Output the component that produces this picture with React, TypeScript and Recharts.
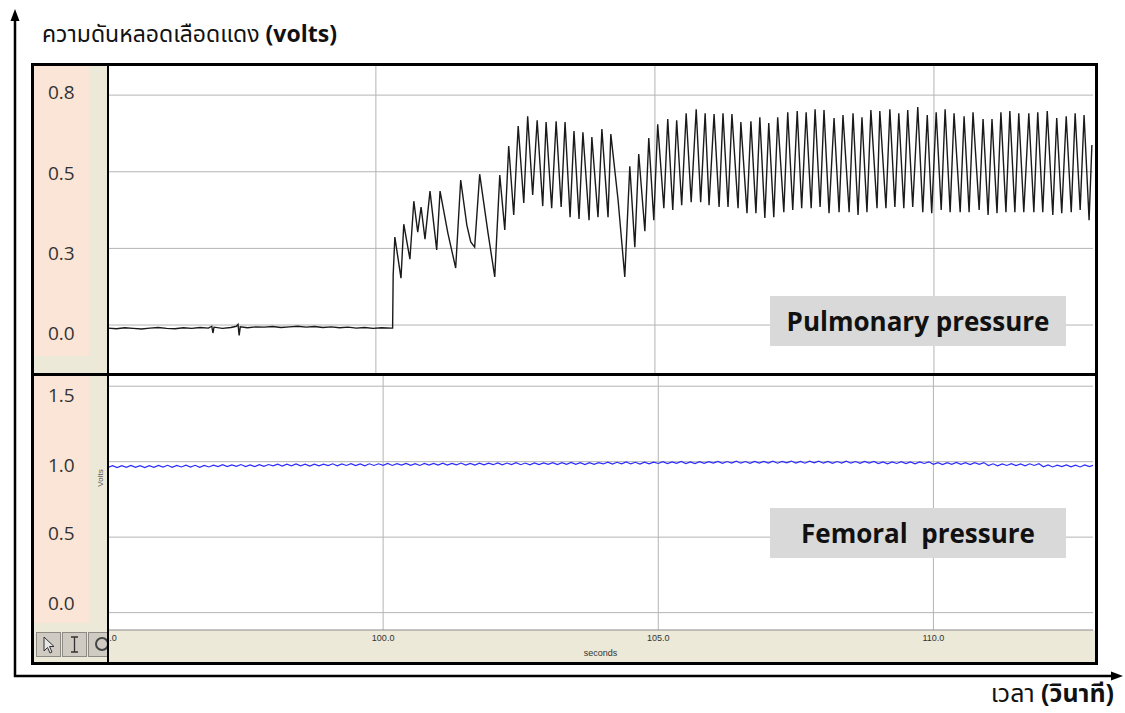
import { Line, LineChart, ReferenceLine, XAxis, YAxis } from "recharts";

// pulmonary channel: y ticks and time gridlines
const PULM_TICKS = [0, 0.25, 0.5, 0.75];
const PULM_TIME_GRID = [100, 105, 110];

// femoral channel
const FEM_TICKS = [0, 0.5, 1.0, 1.5];
const FEM_TIME_TICKS = [95, 100, 105, 110];

// flat trace before the catheter reaches the artery [seconds, volts]
const PULM_BASELINE: [number, number][] = [
  [95.2, -0.01], [95.35, -0.012], [95.5, -0.009], [95.65, -0.011], [95.8, -0.013],
  [95.95, -0.01], [96.1, -0.008], [96.25, -0.011], [96.4, -0.012], [96.55, -0.009],
  [96.7, -0.011], [96.85, -0.008], [97.0, -0.01], [97.06, -0.004], [97.08, -0.026],
  [97.1, -0.007], [97.25, -0.011], [97.4, -0.008], [97.5, -0.004], [97.53, 0.002],
  [97.55, -0.034], [97.57, -0.006], [97.7, -0.009], [97.85, -0.006], [98.0, -0.007],
  [98.15, -0.005], [98.3, -0.008], [98.45, -0.006], [98.6, -0.004], [98.75, -0.007],
  [98.9, -0.005], [99.05, -0.008], [99.2, -0.006], [99.35, -0.009], [99.5, -0.007],
  [99.65, -0.01], [99.8, -0.008], [99.95, -0.011], [100.1, -0.009], [100.28, -0.01],
];

// peaks and troughs of the pulsatile part [seconds, volts]
const PULM_BEATS: [number, number][] = [
  [100.3, -0.01], [100.31, 0.163], [100.34, 0.287], [100.45, 0.153], [100.5, 0.329],
  [100.61, 0.215], [100.68, 0.404], [100.75, 0.303], [100.81, 0.385], [100.88, 0.28],
  [100.97, 0.437], [101.09, 0.245], [101.15, 0.437], [101.29, 0.3], [101.43, 0.186],
  [101.52, 0.473], [101.63, 0.326], [101.7, 0.271], [101.77, 0.254], [101.86, 0.492],
  [102.01, 0.3], [102.13, 0.157], [102.22, 0.489], [102.31, 0.31], [102.38, 0.584],
  [102.47, 0.359], [102.55, 0.649], [102.65, 0.398], [102.72, 0.681], [102.81, 0.424],
  [102.89, 0.668], [102.99, 0.388], [103.05, 0.662], [103.15, 0.381], [103.23, 0.665],
  [103.32, 0.385], [103.39, 0.662], [103.48, 0.352], [103.55, 0.633], [103.64, 0.346],
  [103.71, 0.629], [103.82, 0.342], [103.87, 0.613], [103.98, 0.352], [104.05, 0.639],
  [104.16, 0.352], [104.21, 0.623], [104.34, 0.408], [104.46, 0.157], [104.55, 0.518],
  [104.64, 0.254], [104.71, 0.558], [104.82, 0.306], [104.89, 0.61], [104.98, 0.342],
  [105.05, 0.655], [105.16, 0.381], [105.23, 0.672], [105.32, 0.375], [105.39, 0.668],
  [105.48, 0.391], [105.56, 0.691], [105.65, 0.401], [105.74, 0.704], [105.82, 0.401],
  [105.9, 0.691], [105.97, 0.391], [106.06, 0.688], [106.15, 0.385], [106.22, 0.691],
  [106.31, 0.385], [106.38, 0.688], [106.49, 0.381], [106.54, 0.662], [106.65, 0.365],
  [106.72, 0.665], [106.81, 0.365], [106.88, 0.678], [106.97, 0.349], [107.04, 0.659],
  [107.13, 0.352], [107.2, 0.678], [107.31, 0.368], [107.38, 0.694], [107.47, 0.375],
  [107.55, 0.698], [107.63, 0.381], [107.71, 0.694], [107.8, 0.381], [107.87, 0.704],
  [107.96, 0.385], [108.03, 0.701], [108.12, 0.365], [108.21, 0.675], [108.3, 0.368],
  [108.37, 0.685], [108.48, 0.368], [108.55, 0.691], [108.64, 0.359], [108.71, 0.678],
  [108.8, 0.368], [108.87, 0.701], [108.98, 0.381], [109.03, 0.698], [109.14, 0.381],
  [109.21, 0.704], [109.3, 0.385], [109.37, 0.691], [109.46, 0.381], [109.53, 0.701],
  [109.62, 0.385], [109.71, 0.711], [109.8, 0.368], [109.88, 0.685], [109.96, 0.365],
  [110.04, 0.694], [110.13, 0.375], [110.2, 0.704], [110.29, 0.368], [110.36, 0.691],
  [110.47, 0.368], [110.54, 0.681], [110.63, 0.368], [110.7, 0.694], [110.81, 0.375],
  [110.88, 0.672], [110.97, 0.359], [111.04, 0.672], [111.13, 0.365], [111.2, 0.694],
  [111.29, 0.368], [111.36, 0.698], [111.45, 0.368], [111.52, 0.691], [111.61, 0.368],
  [111.7, 0.691], [111.79, 0.368], [111.86, 0.694], [111.95, 0.368], [112.03, 0.698],
  [112.13, 0.359], [112.2, 0.675], [112.29, 0.365], [112.37, 0.681], [112.46, 0.368],
  [112.53, 0.691], [112.62, 0.375], [112.69, 0.685], [112.78, 0.342], [112.83, 0.587],
];

// femoral pressure, sampled every 1/12 s from 95.0 s (one row per second)
const FEMORAL_START = 95;
const FEMORAL_STEP = 1 / 12;
const FEMORAL: number[] = [
  0.962, 0.974, 0.961, 0.973, 0.963, 0.975, 0.962, 0.973, 0.961, 0.974, 0.963, 0.975,
  0.964, 0.976, 0.963, 0.975, 0.965, 0.977, 0.964, 0.976, 0.963, 0.975, 0.965, 0.977,
  0.968, 0.98, 0.967, 0.979, 0.969, 0.981, 0.968, 0.979, 0.967, 0.98, 0.969, 0.981,
  0.972, 0.984, 0.971, 0.983, 0.973, 0.985, 0.972, 0.983, 0.971, 0.984, 0.973, 0.984,
  0.974, 0.986, 0.973, 0.985, 0.975, 0.987, 0.974, 0.985, 0.973, 0.986, 0.975, 0.986,
  0.976, 0.988, 0.975, 0.987, 0.977, 0.989, 0.976, 0.987, 0.975, 0.988, 0.977, 0.988,
  0.978, 0.99, 0.977, 0.989, 0.979, 0.991, 0.978, 0.989, 0.977, 0.99, 0.979, 0.99,
  0.98, 0.992, 0.979, 0.991, 0.981, 0.993, 0.98, 0.991, 0.979, 0.992, 0.981, 0.992,
  0.982, 0.994, 0.981, 0.993, 0.983, 0.995, 0.982, 0.993, 0.981, 0.994, 0.983, 0.994,
  0.985, 0.997, 0.984, 0.996, 0.986, 0.998, 0.985, 0.996, 0.984, 0.997, 0.986, 0.997,
  0.988, 1.0, 0.987, 0.999, 0.989, 1.001, 0.988, 0.999, 0.987, 1.0, 0.989, 1.0,
  0.99, 1.002, 0.989, 1.001, 0.991, 1.003, 0.99, 1.001, 0.989, 1.002, 0.991, 1.002,
  0.991, 1.003, 0.99, 1.002, 0.992, 1.004, 0.991, 1.002, 0.99, 1.003, 0.992, 1.003,
  0.99, 1.002, 0.989, 1.001, 0.991, 1.003, 0.99, 1.001, 0.989, 1.002, 0.991, 1.002,
  0.987, 0.999, 0.986, 0.998, 0.988, 1.0, 0.987, 0.998, 0.986, 0.999, 0.988, 0.999,
  0.982, 0.994, 0.981, 0.993, 0.983, 0.995, 0.982, 0.993, 0.981, 0.994, 0.983, 0.994,
  0.974, 0.986, 0.973, 0.985, 0.975, 0.987, 0.974, 0.985, 0.973, 0.986, 0.975, 0.986,
  0.966, 0.978, 0.965, 0.977, 0.967, 0.979, 0.966, 0.977, 0.965, 0.978, 0.967, 0.978,
];

const pulmData = [...PULM_BASELINE, ...PULM_BEATS].map(([t, v]) => ({ t, v }));
const femData = FEMORAL.map((v, i) => ({ t: FEMORAL_START + i * FEMORAL_STEP, v }));

const PINK = "#fbe5d6";
const BEIGE = "#ece9d8";
const GRID = "#b4b4b4";
const THAI = '"Noto Sans Thai", "Noto Sans", "DejaVu Sans", sans-serif';
const SANS = '"Open Sans", "Noto Sans", sans-serif';
const SMALL = "Arial, 'Liberation Sans', sans-serif";

// the value labels in the side column sit a little off the gridlines
const PULM_LABEL_SHIFT = [8, 5, 1, -3];
const FEM_LABEL_SHIFT = [-10, -4, 3, 9];

function ValueTick(props: any) {
  const { y, payload, index, shift } = props;
  return (
    <text x={13} y={y + (shift?.[index] ?? 0)} dy={7} fill="#333" fontSize={19} fontFamily={SANS}>
      {Number(payload.value).toFixed(1)}
    </text>
  );
}

const abs = (left: number, top: number, width: number, height: number, extra: any = {}) => ({
  position: "absolute" as const,
  left,
  top,
  width,
  height,
  ...extra,
});

function ToolButton({ left, children }: { left: number; children: any }) {
  return (
    <div style={abs(left, 632, 25, 25, { background: "#cfcbc2", border: "1px solid #8e8b84", boxSizing: "border-box" })}>
      <svg width={23} height={23}>{children}</svg>
    </div>
  );
}

export default function App() {
  return (
    <div style={{ position: "absolute", left: 0, top: 0, width: 1125, height: 713, background: "#fff", overflow: "hidden" }}>
      {/* label columns */}
      <div style={abs(34, 66, 55, 290, { background: PINK })} />
      <div style={abs(34, 356, 55, 17, { background: BEIGE })} />
      <div style={abs(89, 66, 18, 307, { background: BEIGE })} />
      <div style={abs(34, 376, 55, 247, { background: PINK })} />
      <div style={abs(34, 623, 55, 9, { background: BEIGE })} />
      <div style={abs(89, 376, 18, 256, { background: BEIGE })} />
      <div style={abs(34, 630, 1061, 32, { background: BEIGE })} />

      {/* pulmonary pressure */}
      <div style={abs(35, 66, 1058, 307)}>
        <LineChart width={1058} height={307} data={pulmData} margin={{ top: 0, right: 0, bottom: 0, left: 0 }}>
          <XAxis dataKey="t" type="number" domain={[95.2, 112.85]} hide allowDataOverflow />
          <YAxis
            type="number"
            domain={[-0.1565, 0.845]}
            ticks={PULM_TICKS}
            interval={0}
            width={73}
            axisLine={false}
            tickLine={false}
            tick={<ValueTick shift={PULM_LABEL_SHIFT} />}
            allowDataOverflow
          />
          {PULM_TICKS.map((v) => (
            <ReferenceLine key={`h${v}`} y={v} stroke={GRID} strokeWidth={1} />
          ))}
          {PULM_TIME_GRID.map((t) => (
            <ReferenceLine key={`v${t}`} x={t} stroke={GRID} strokeWidth={1} />
          ))}
          <Line type="linear" dataKey="v" stroke="#1a1a1a" strokeWidth={1.4} dot={false} isAnimationActive={false} />
        </LineChart>
      </div>

      {/* femoral pressure */}
      <div style={abs(35, 376, 1058, 284)}>
        <LineChart width={1058} height={284} data={femData} margin={{ top: 0, right: 0, bottom: 0, left: 0 }}>
          <XAxis
            dataKey="t"
            type="number"
            domain={[95, 112.9]}
            ticks={FEM_TIME_TICKS}
            interval={0}
            height={30}
            tickLine={false}
            tickSize={3}
            axisLine={{ stroke: "#8a8a8a" }}
            tick={{ fontSize: 9, fill: "#333", fontFamily: SMALL }}
            tickFormatter={(v: number) => v.toFixed(1)}
            label={{ value: "seconds", position: "insideBottom", offset: 4, fontSize: 9, fill: "#333", fontFamily: SMALL }}
            allowDataOverflow
          />
          <YAxis
            type="number"
            domain={[-0.115, 1.5675]}
            ticks={FEM_TICKS}
            interval={0}
            width={73}
            axisLine={false}
            tickLine={false}
            tick={<ValueTick shift={FEM_LABEL_SHIFT} />}
            allowDataOverflow
          />
          {FEM_TICKS.map((v) => (
            <ReferenceLine key={`h${v}`} y={v} stroke={GRID} strokeWidth={1} />
          ))}
          {FEM_TIME_TICKS.slice(1).map((t) => (
            <ReferenceLine key={`v${t}`} x={t} stroke={GRID} strokeWidth={1} />
          ))}
          <Line type="linear" dataKey="v" stroke="#2b2bff" strokeWidth={1.2} dot={false} isAnimationActive={false} />
        </LineChart>
      </div>

      <div
        style={abs(86, 472, 30, 12, {
          transform: "rotate(-90deg)",
          fontSize: 8,
          color: "#555",
          fontFamily: SMALL,
          textAlign: "center",
          lineHeight: "12px",
        })}
      >
        Volts
      </div>

      {/* channel names */}
      {[
        { top: 296, text: "Pulmonary pressure" },
        { top: 508, text: "Femoral  pressure" },
      ].map((b) => (
        <div
          key={b.text}
          style={abs(770, b.top, 296, 50, {
            background: "#d9d9d9",
            fontFamily: SANS,
            fontWeight: 700,
            fontSize: 26,
            lineHeight: "50px",
            textAlign: "center",
            color: "#111",
            whiteSpace: "pre",
          })}
        >
          {b.text}
        </div>
      ))}

      {/* frame */}
      <div style={abs(31, 63, 1067, 602, { border: "3px solid #000", boxSizing: "border-box" })} />
      <div style={abs(31, 373, 1067, 3, { background: "#000" })} />
      <div style={abs(107, 63, 2, 602, { background: "#000" })} />

      {/* toolbar */}
      <ToolButton left={36}>
        <path d="M7 4 L7 18 L10.5 14.5 L13 20 L15 19 L12.5 13.5 L17 13.5 Z" fill="#e6e6e6" stroke="#333" strokeWidth={1} />
      </ToolButton>
      <ToolButton left={62}>
        <path d="M8 4 H15 M11.5 4 V19 M8 19 H15" stroke="#333" strokeWidth={1.3} fill="none" />
      </ToolButton>
      <div style={abs(88, 632, 19, 25, { background: "#cfcbc2", border: "1px solid #8e8b84", borderRight: "none", boxSizing: "border-box", overflow: "hidden" })}>
        <svg width={19} height={23}>
          <circle cx={13} cy={11} r={6} fill="none" stroke="#444" strokeWidth={2} />
        </svg>
      </div>

      {/* axis arrows */}
      <svg width={1125} height={713} style={{ position: "absolute", left: 0, top: 0, pointerEvents: "none" }}>
        <line x1={15} y1={18} x2={15} y2={677} stroke="#000" strokeWidth={2.5} />
        <polygon points="15,9 10.5,21 19.5,21" fill="#000" />
        <line x1={14} y1={676} x2={1113} y2={676} stroke="#000" strokeWidth={2.5} />
        <polygon points="1123,676 1111,671.5 1111,680.5" fill="#000" />
      </svg>

      <div style={abs(42, 15, 420, 36, { fontFamily: THAI, fontSize: 23, color: "#111", whiteSpace: "nowrap", lineHeight: "36px" })}>
        ความดันหลอดเลือดแดง{" "}
        <span style={{ fontFamily: SANS, fontWeight: 700, fontSize: 23 }}>(volts)</span>
      </div>
      <div style={abs(880, 677, 234, 34, { fontFamily: THAI, fontSize: 25, color: "#111", whiteSpace: "nowrap", textAlign: "right", lineHeight: "34px" })}>
        เวลา <span style={{ fontWeight: 700 }}>(วินาที)</span>
      </div>
    </div>
  );
}
